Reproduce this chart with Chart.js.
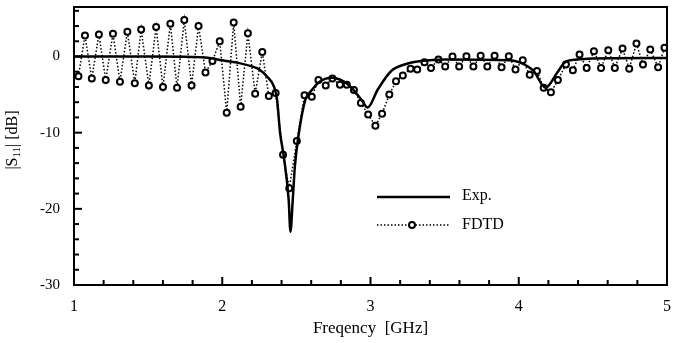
<!DOCTYPE html>
<html>
<head>
<meta charset="utf-8">
<script src="https://cdn.jsdelivr.net/npm/chart.js@4.4.1/dist/chart.umd.min.js"></script>
<style>
  html, body { margin: 0; padding: 0; background: #fff; }
  #wrap { width: 673px; height: 343px; }
</style>
</head>
<body>
<div id="wrap"><canvas id="grafico" width="673" height="343"></canvas></div>
<script>
/* ================= DADOS ================= */
// Exp. (medido)
const expFreq = [1.0, 1.5, 1.8, 1.9, 2.0, 2.1, 2.2, 2.25, 2.3, 2.35, 2.37, 2.39, 2.415, 2.448, 2.46,
  2.475, 2.49, 2.515, 2.56, 2.6, 2.65, 2.74, 2.85, 2.94, 2.98, 3.05, 3.14, 3.23, 3.34, 3.5,
  3.94, 4.01, 4.1, 4.18, 4.26, 4.31, 4.39, 4.5, 5.0];
const expS11 = [0, 0, -0.05, -0.15, -0.5, -0.8, -1.3, -1.7, -2.6, -4.0, -5.7, -10, -13.1, -18.8, -23,
  -19, -14.4, -10.3, -5.7, -4.5, -3.4, -2.8, -3.7, -5.7, -6.7, -4.3, -1.9, -1.05, -0.6, -0.4,
  -0.5, -0.8, -1.9, -4.1, -2.1, -0.8, -0.4, -0.25, -0.2];

// FDTD (simulado)
const fdtdFreq = [1.03, 1.074, 1.12, 1.168, 1.214, 1.263, 1.31, 1.36, 1.41, 1.453, 1.505, 1.554,
  1.6, 1.65, 1.695, 1.744, 1.793, 1.84, 1.887, 1.934, 1.983, 2.03, 2.077, 2.124, 2.173, 2.222,
  2.27, 2.314, 2.36, 2.41, 2.452, 2.503, 2.555, 2.604, 2.649, 2.698, 2.743, 2.794, 2.84, 2.888,
  2.935, 2.984, 3.033, 3.078, 3.127, 3.172, 3.218, 3.27, 3.315, 3.364, 3.408, 3.458, 3.504,
  3.553, 3.598, 3.647, 3.694, 3.743, 3.788, 3.837, 3.884, 3.933, 3.978, 4.027, 4.074, 4.123,
  4.168, 4.217, 4.264, 4.318, 4.365, 4.41, 4.458, 4.507, 4.555, 4.604, 4.648, 4.7, 4.745,
  4.794, 4.838, 4.887, 4.94, 4.983];
const fdtdS11 = [-2.6, 2.76, -2.9, 2.9, -3.1, 3.0, -3.3, 3.25, -3.5, 3.55, -3.8, 3.86,
  -4.0, 4.3, -4.1, 4.78, -3.8, 4.0, -2.1, -0.6, 2.0, -7.4, 4.45, -6.6, 3.05, -4.9,
  0.6, -5.2, -4.8, -12.9, -17.3, -11.1, -5.1, -5.3, -3.1, -3.8, -2.9, -3.7, -3.7, -4.4,
  -6.1, -7.6, -9.1, -7.5, -5.0, -3.25, -2.5, -1.6, -1.7, -0.75, -1.5, -0.4, -1.3,
  0, -1.3, 0.05, -1.3, 0.1, -1.3, 0.1, -1.4, 0.05, -1.7, -0.5, -2.4, -1.9,
  -4.1, -4.7, -3.1, -1.05, -1.8, 0.26, -1.5, 0.7, -1.5, 0.83, -1.5, 1.05, -1.6,
  1.7, -1.05, 0.92, -1.4, 1.14];

const xMajor = [1, 2, 3, 4, 5];
const yMajor = [0, -10, -20, -30];
const legendLabels = ["Exp.", "FDTD"];

/* ================= ESTILO ================= */
const FONTE = "'Liberation Serif', 'Times New Roman', serif";

function pares(xs, ys) {
  return xs.map((x, i) => ({ x: x, y: ys[i] }));
}

/* ================= PLUGIN: MOLDURA, TICKS, LEGENDA ================= */
const molduraPlugin = {
  id: "moldura",
  afterDraw(chart) {
    const { ctx, chartArea: a, scales } = chart;
    const sx = scales.x, sy = scales.y;
    ctx.save();
    ctx.strokeStyle = "#000";
    ctx.lineWidth = 2;
    ctx.strokeRect(a.left, a.top, a.right - a.left, a.bottom - a.top);

    // ticks internos eixo x
    for (let i = 0; i <= 20; i++) {
      const v = 1 + i * 0.2;
      const px = sx.getPixelForValue(v);
      const maior = Math.abs(v - Math.round(v)) < 1e-6;
      ctx.beginPath();
      ctx.moveTo(px, a.bottom);
      ctx.lineTo(px, a.bottom - (maior ? 8 : 5));
      ctx.stroke();
    }
    // ticks internos eixo y
    for (let v = -30; v <= 6; v += 2) {
      const py = sy.getPixelForValue(v);
      const maior = v % 10 === 0;
      ctx.beginPath();
      ctx.moveTo(a.left, py);
      ctx.lineTo(a.left + (maior ? 8 : 5), py);
      ctx.stroke();
    }

    // titulo eixo y com subscrito
    ctx.fillStyle = "#000";
    ctx.translate(13, 140);
    ctx.rotate(-Math.PI / 2);
    ctx.textBaseline = "middle";
    const f1 = "16px " + FONTE, f2 = "11px " + FONTE;
    ctx.font = f1;
    const w1 = ctx.measureText("|S").width;
    const w3 = ctx.measureText("| [dB]").width;
    ctx.font = f2;
    const w2 = ctx.measureText("11").width;
    let x0 = -(w1 + w2 + w3) / 2;
    ctx.font = f1;
    ctx.fillText("|S", x0, 0);
    ctx.font = f2;
    ctx.fillText("11", x0 + w1, 4);
    ctx.font = f1;
    ctx.fillText("| [dB]", x0 + w1 + w2, 0);
    ctx.restore();

    // legenda
    ctx.save();
    ctx.fillStyle = "#000";
    ctx.strokeStyle = "#000";
    ctx.font = "16px " + FONTE;
    ctx.textBaseline = "middle";
    ctx.lineWidth = 2.5;
    ctx.beginPath();
    ctx.moveTo(377, 197);
    ctx.lineTo(450, 197);
    ctx.stroke();
    ctx.fillText(legendLabels[0], 462, 196);

    ctx.lineWidth = 1.5;
    ctx.setLineDash([1.5, 2]);
    ctx.beginPath();
    ctx.moveTo(377, 225);
    ctx.lineTo(450, 225);
    ctx.stroke();
    ctx.setLineDash([]);
    ctx.lineWidth = 2;
    ctx.fillStyle = "#fff";
    ctx.beginPath();
    ctx.arc(412, 225, 3, 0, Math.PI * 2);
    ctx.fill();
    ctx.stroke();
    ctx.fillStyle = "#000";
    ctx.fillText(legendLabels[1], 462, 225);
    ctx.restore();
  }
};

/* ================= GRAFICO ================= */
new Chart(document.getElementById("grafico"), {
  type: "line",
  data: {
    datasets: [
      {
        label: legendLabels[0],
        data: pares(expFreq, expS11),
        borderColor: "#000",
        borderWidth: 2.5,
        pointRadius: 0,
        cubicInterpolationMode: "monotone",
        fill: false
      },
      {
        label: legendLabels[1],
        data: pares(fdtdFreq, fdtdS11),
        borderColor: "#000",
        borderWidth: 1.5,
        borderDash: [1.5, 2],
        tension: 0,
        pointRadius: 3,
        pointBorderWidth: 2,
        pointBackgroundColor: "#fff",
        pointBorderColor: "#000",
        fill: false
      }
    ]
  },
  options: {
    responsive: false,
    animation: false,
    layout: { padding: { top: 7, right: 1, left: 0, bottom: 0 } },
    plugins: { legend: { display: false }, tooltip: { enabled: false } },
    scales: {
      x: {
        type: "linear",
        min: 1,
        max: 5,
        grid: { display: false },
        border: { display: false },
        afterBuildTicks: s => { s.ticks = xMajor.map(v => ({ value: v })); },
        afterFit: s => { s.height = 58; s.paddingLeft = 0; s.paddingRight = 0; },
        ticks: {
          padding: 4,
          color: "#000",
          font: { family: FONTE, size: 16 },
          maxRotation: 0,
          callback: v => String(v)
        },
        title: {
          display: true,
          text: "Freqency  [GHz]",
          color: "#000",
          font: { family: FONTE, size: 17 },
          padding: { top: 2 }
        }
      },
      y: {
        min: -30,
        max: 6.5,
        grid: { display: false },
        border: { display: false },
        afterBuildTicks: s => { s.ticks = yMajor.map(v => ({ value: v })); },
        afterFit: s => { s.width = 74; s.paddingTop = 0; s.paddingBottom = 0; },
        ticks: {
          padding: 6,
          color: "#000",
          font: { family: FONTE, size: 15 },
          callback: v => String(v)
        }
      }
    }
  },
  plugins: [molduraPlugin]
});
</script>
</body>
</html>
